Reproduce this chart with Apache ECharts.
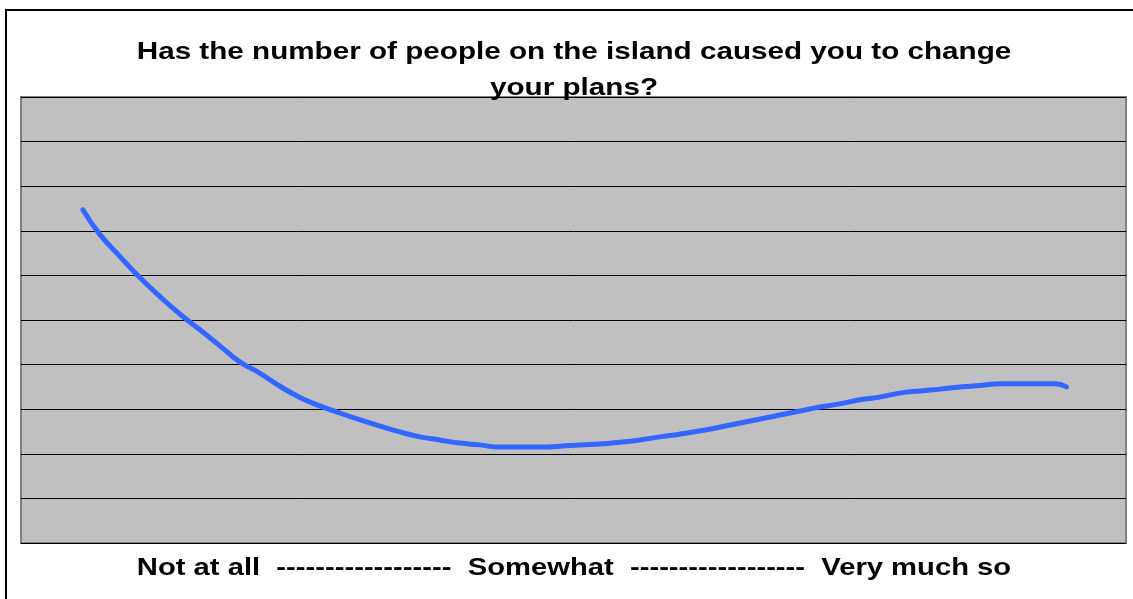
<!DOCTYPE html>
<html>
<head>
<meta charset="utf-8">
<script src="https://cdn.jsdelivr.net/npm/echarts@6/dist/echarts.min.js"></script>
<style>
  html, body { margin: 0; padding: 0; background: #ffffff; }
  #chart { width: 1133px; height: 599px; }
</style>
</head>
<body>
<div id="chart"></div>
<script>
// Response scale position (0 = "Not at all", 10 = "Very much so")
const responsePos = [
  0.56, 0.71, 0.90, 1.08, 1.26, 1.44, 1.62, 1.80, 1.98, 2.16,
  2.34, 2.52, 2.71, 2.89, 3.07, 3.25, 3.43, 3.61, 3.79, 3.97,
  4.15, 4.33, 4.52, 4.70, 4.88, 5.06, 5.24, 5.42, 5.60, 5.78,
  5.96, 6.14, 6.33, 6.51, 6.69, 6.87, 7.05, 7.23, 7.41, 7.59,
  7.77, 7.95, 8.14, 8.32, 8.50, 8.68, 8.86, 9.04, 9.22, 9.36, 9.46
];
// Relative share of respondents along the scale
const responseLevel = [
  7.47, 6.93, 6.41, 5.94, 5.52, 5.13, 4.78, 4.42, 4.06, 3.81,
  3.52, 3.27, 3.07, 2.91, 2.76, 2.62, 2.49, 2.38, 2.31, 2.24,
  2.20, 2.15, 2.15, 2.15, 2.17, 2.20, 2.22, 2.26, 2.31, 2.38,
  2.44, 2.51, 2.60, 2.69, 2.78, 2.87, 2.96, 3.05, 3.12, 3.21,
  3.27, 3.36, 3.41, 3.45, 3.50, 3.53, 3.57, 3.57, 3.57, 3.57, 3.50
];
const chartTitle = 'Has the number of people on the island caused you to change\nyour plans?';
const scaleLabel = 'Not at all  ------------------  Somewhat  ------------------  Very much so';

const points = responsePos.map((x, i) => [x, responseLevel[i]]);

// Wide bold face used for the heading and the scale caption
const headingFont = {
  fontFamily: 'Liberation Sans, Arial, sans-serif',
  fontWeight: 'bold',
  fontSize: 24,
  fill: '#000000',
  align: 'center'
};

const chart = echarts.init(document.getElementById('chart'), null, { renderer: 'canvas' });
chart.setOption({
  backgroundColor: '#ffffff',
  animation: false,
  graphic: [
    {
      type: 'rect',
      shape: { x: 6, y: 10, width: 1300, height: 800 },
      style: { fill: 'none', stroke: '#000000', lineWidth: 2 },
      silent: true,
      z: 10
    },
    {
      type: 'text',
      x: 574,
      y: 34,
      scaleX: 1.235,
      z: 100,
      style: Object.assign({}, headingFont, {
        text: chartTitle,
        lineHeight: 36,
        verticalAlign: 'top'
      })
    },
    {
      type: 'text',
      x: 574,
      y: 556,
      scaleX: 1.217,
      z: 100,
      style: Object.assign({}, headingFont, {
        text: scaleLabel,
        verticalAlign: 'top'
      })
    }
  ],
  grid: {
    left: 21,
    top: 97,
    right: 7,
    bottom: 56,
    show: true,
    backgroundColor: '#c0c0c0',
    borderColor: '#808080',
    borderWidth: 2
  },
  xAxis: {
    type: 'value',
    min: 0,
    max: 10,
    axisLine: { show: false },
    axisTick: { show: false },
    axisLabel: { show: false },
    splitLine: { show: false }
  },
  yAxis: {
    type: 'value',
    min: 0,
    max: 10,
    interval: 1,
    axisLine: { show: false },
    axisTick: { show: false },
    axisLabel: { show: false },
    splitLine: { show: true, lineStyle: { color: '#000000', width: 1 } }
  },
  series: [{
    type: 'line',
    data: points,
    smooth: true,
    showSymbol: false,
    lineStyle: { color: '#3366ff', width: 5, cap: 'round', join: 'round' },
    z: 5
  }]
});
</script>
</body>
</html>
